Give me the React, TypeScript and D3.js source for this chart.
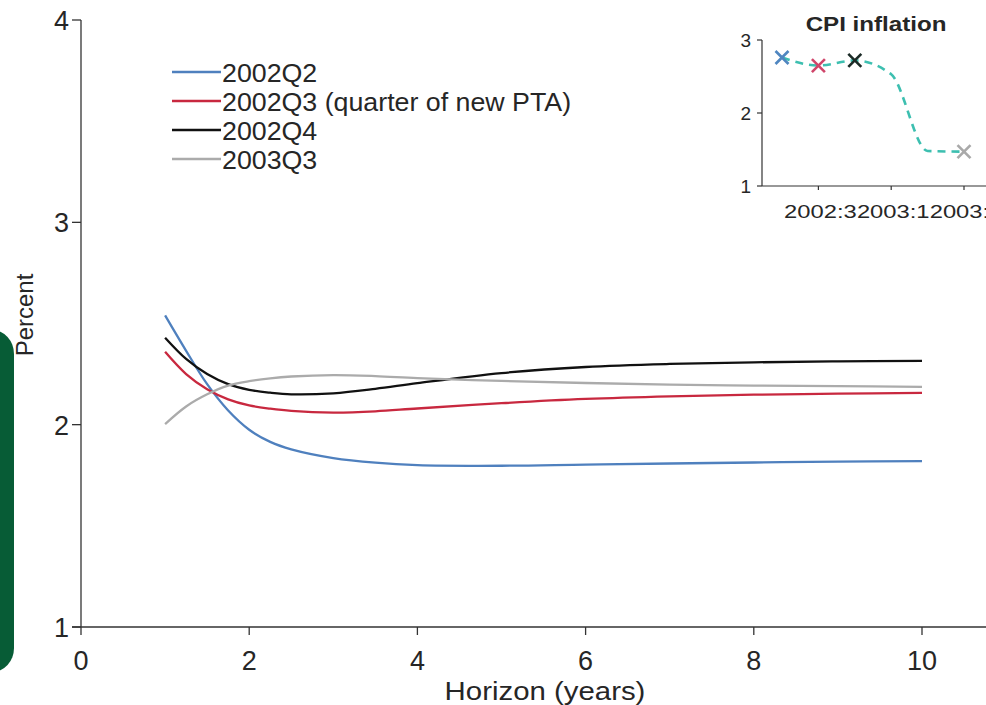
import React from "react";
import * as d3 from "d3";

// horizon (years) and forward inflation expectations, percent
const horizons = [1, 1.25, 1.5, 1.75, 2, 2.25, 2.5, 3, 3.5, 4, 5, 6, 7, 8, 9, 10];
const q2002Q2 = [2.54, 2.365, 2.2, 2.07, 1.975, 1.915, 1.878, 1.835, 1.812, 1.8, 1.797, 1.803, 1.808, 1.813, 1.817, 1.82];
const q2002Q3 = [2.36, 2.25, 2.175, 2.125, 2.095, 2.079, 2.068, 2.06, 2.066, 2.08, 2.106, 2.127, 2.14, 2.148, 2.153, 2.157];
const q2002Q4 = [2.43, 2.325, 2.25, 2.2, 2.172, 2.158, 2.15, 2.155, 2.177, 2.205, 2.255, 2.285, 2.3, 2.308, 2.313, 2.315];
const q2003Q3 = [2.003, 2.09, 2.15, 2.193, 2.215, 2.229, 2.238, 2.245, 2.24, 2.23, 2.216, 2.206, 2.198, 2.193, 2.19, 2.187];

const seriesNames = ["2002Q2", "2002Q3 (quarter of new PTA)", "2002Q4", "2003Q3"];
const seriesColors = ["#4f80be", "#c8283f", "#111111", "#ababab"];
const seriesValues = [q2002Q2, q2002Q3, q2002Q4, q2003Q3];

// inset: CPI inflation by quarter
const quarters = ["2002:2", "2002:3", "2002:4", "2003:1", "2003:2", "2003:3"];
const cpi = [2.76, 2.65, 2.72, 2.53, 1.48, 1.47];
const quarterTicks = ["2002:3", "2003:1", "2003:3"];
// marked quarters and their marker colours
const markedQuarters = ["2002:2", "2002:3", "2002:4", "2003:3"];
const markColors = ["#4f86c0", "#d0456a", "#1b2a26", "#a9a9a9"];

const FONT = "'Liberation Sans', Arial, Helvetica, sans-serif";

const SText = ({ x, y, sx = 1, size, anchor = "start", weight = "normal", children }: any) => (
  <text
    transform={`translate(${x},${y}) scale(${sx},1)`}
    fontSize={size}
    fontFamily={FONT}
    fontWeight={weight}
    textAnchor={anchor}
    fill="#262626"
  >
    {children}
  </text>
);

const App = () => {
  const width = 986;
  const height = 705;

  const xScale = d3.scaleLinear().domain([0, 10]).range([81, 922]);
  const yScale = d3.scaleLinear().domain([1, 4]).range([627, 20]);

  const line = d3
    .line<number>()
    .x((_, i) => xScale(horizons[i]))
    .y((d) => yScale(d))
    .curve(d3.curveCatmullRom.alpha(0.5));

  // inset scales
  const ix = d3.scalePoint<string>().domain(quarters).range([782, 964]);
  const iy = d3.scaleLinear().domain([1, 3]).range([186, 40]);
  const insetLine = d3
    .line<number>()
    .x((_, i) => ix(quarters[i]) as number)
    .y((d) => iy(d))
    .curve(d3.curveMonotoneX);

  const axisColor = "#333";

  return (
    <div style={{ position: "absolute", left: 0, top: 0 }}>
      <svg width={width} height={height} style={{ display: "block", background: "#fff" }}>
        {/* green tab at left edge */}
        <rect x={-30} y={330} width={44} height={342} rx={24} fill="#075c36" />

        {/* main axes */}
        <line x1={81} x2={81} y1={yScale(4)} y2={yScale(1)} stroke={axisColor} strokeWidth={1.3} />
        <line x1={72} x2={width} y1={yScale(1)} y2={yScale(1)} stroke={axisColor} strokeWidth={1.3} />
        {yScale.ticks(3).map((t) => (
          <g key={"y" + t}>
            <line x1={72} x2={81} y1={yScale(t)} y2={yScale(t)} stroke={axisColor} strokeWidth={1.3} />
            <SText x={69} y={yScale(t) + 10} size={27} anchor="end">
              {t}
            </SText>
          </g>
        ))}
        {xScale.ticks(5).map((t) => (
          <g key={"x" + t}>
            <line x1={xScale(t)} x2={xScale(t)} y1={627} y2={635} stroke={axisColor} strokeWidth={1.3} />
            <SText x={xScale(t)} y={670} size={27} anchor="middle">
              {t}
            </SText>
          </g>
        ))}
        <SText x={545} y={700} size={26} sx={1.13} anchor="middle">
          Horizon (years)
        </SText>
        <text
          transform="translate(33,315) rotate(-90)"
          fontSize={24}
          fontFamily={FONT}
          textAnchor="middle"
          fill="#262626"
        >
          Percent
        </text>

        {/* series lines */}
        {seriesValues.map((vals, i) => (
          <path
            key={seriesNames[i]}
            d={line(vals) || ""}
            fill="none"
            stroke={seriesColors[i]}
            strokeWidth={2.3}
          />
        ))}

        {/* legend */}
        {seriesNames.map((name, i) => (
          <g key={"lg" + name} transform={`translate(0,${72 + i * 29})`}>
            <line x1={172} x2={221} y1={0} y2={0} stroke={seriesColors[i]} strokeWidth={2.3} />
            <SText x={222} y={10} size={26} sx={1.03}>
              {name}
            </SText>
          </g>
        ))}

        {/* inset: CPI inflation */}
        <SText x={876} y={31} size={21} sx={1.15} anchor="middle" weight="bold">
          CPI inflation
        </SText>
        <line x1={762} x2={762} y1={iy(3)} y2={iy(1)} stroke={axisColor} strokeWidth={1.2} />
        <line x1={762} x2={width} y1={iy(1)} y2={iy(1)} stroke={axisColor} strokeWidth={1.2} />
        {[1, 2, 3].map((t) => (
          <g key={"iy" + t}>
            <line x1={757} x2={762} y1={iy(t)} y2={iy(t)} stroke={axisColor} strokeWidth={1.2} />
            <SText x={751} y={iy(t) + 7} size={19} anchor="end">
              {t}
            </SText>
          </g>
        ))}
        {quarterTicks.map((q) => (
          <g key={"ix" + q}>
            <line x1={ix(q)} x2={ix(q)} y1={iy(1)} y2={iy(1) + 4} stroke={axisColor} strokeWidth={1.2} />
            <SText x={(ix(q) as number) + 2} y={218} size={19} sx={1.25} anchor="middle">
              {q}
            </SText>
          </g>
        ))}
        <path
          d={insetLine(cpi) || ""}
          fill="none"
          stroke="#3dbfb0"
          strokeWidth={2.6}
          strokeDasharray="8,6"
        />
        {markedQuarters.map((q, i) => {
          const cx = ix(q) as number;
          const cy = iy(cpi[quarters.indexOf(q)]);
          const s = 6.5;
          return (
            <g key={"mk" + q} stroke={markColors[i]} strokeWidth={2.6}>
              <line x1={cx - s} x2={cx + s} y1={cy - s} y2={cy + s} />
              <line x1={cx - s} x2={cx + s} y1={cy + s} y2={cy - s} />
            </g>
          );
        })}
      </svg>
    </div>
  );
};

export default App;
